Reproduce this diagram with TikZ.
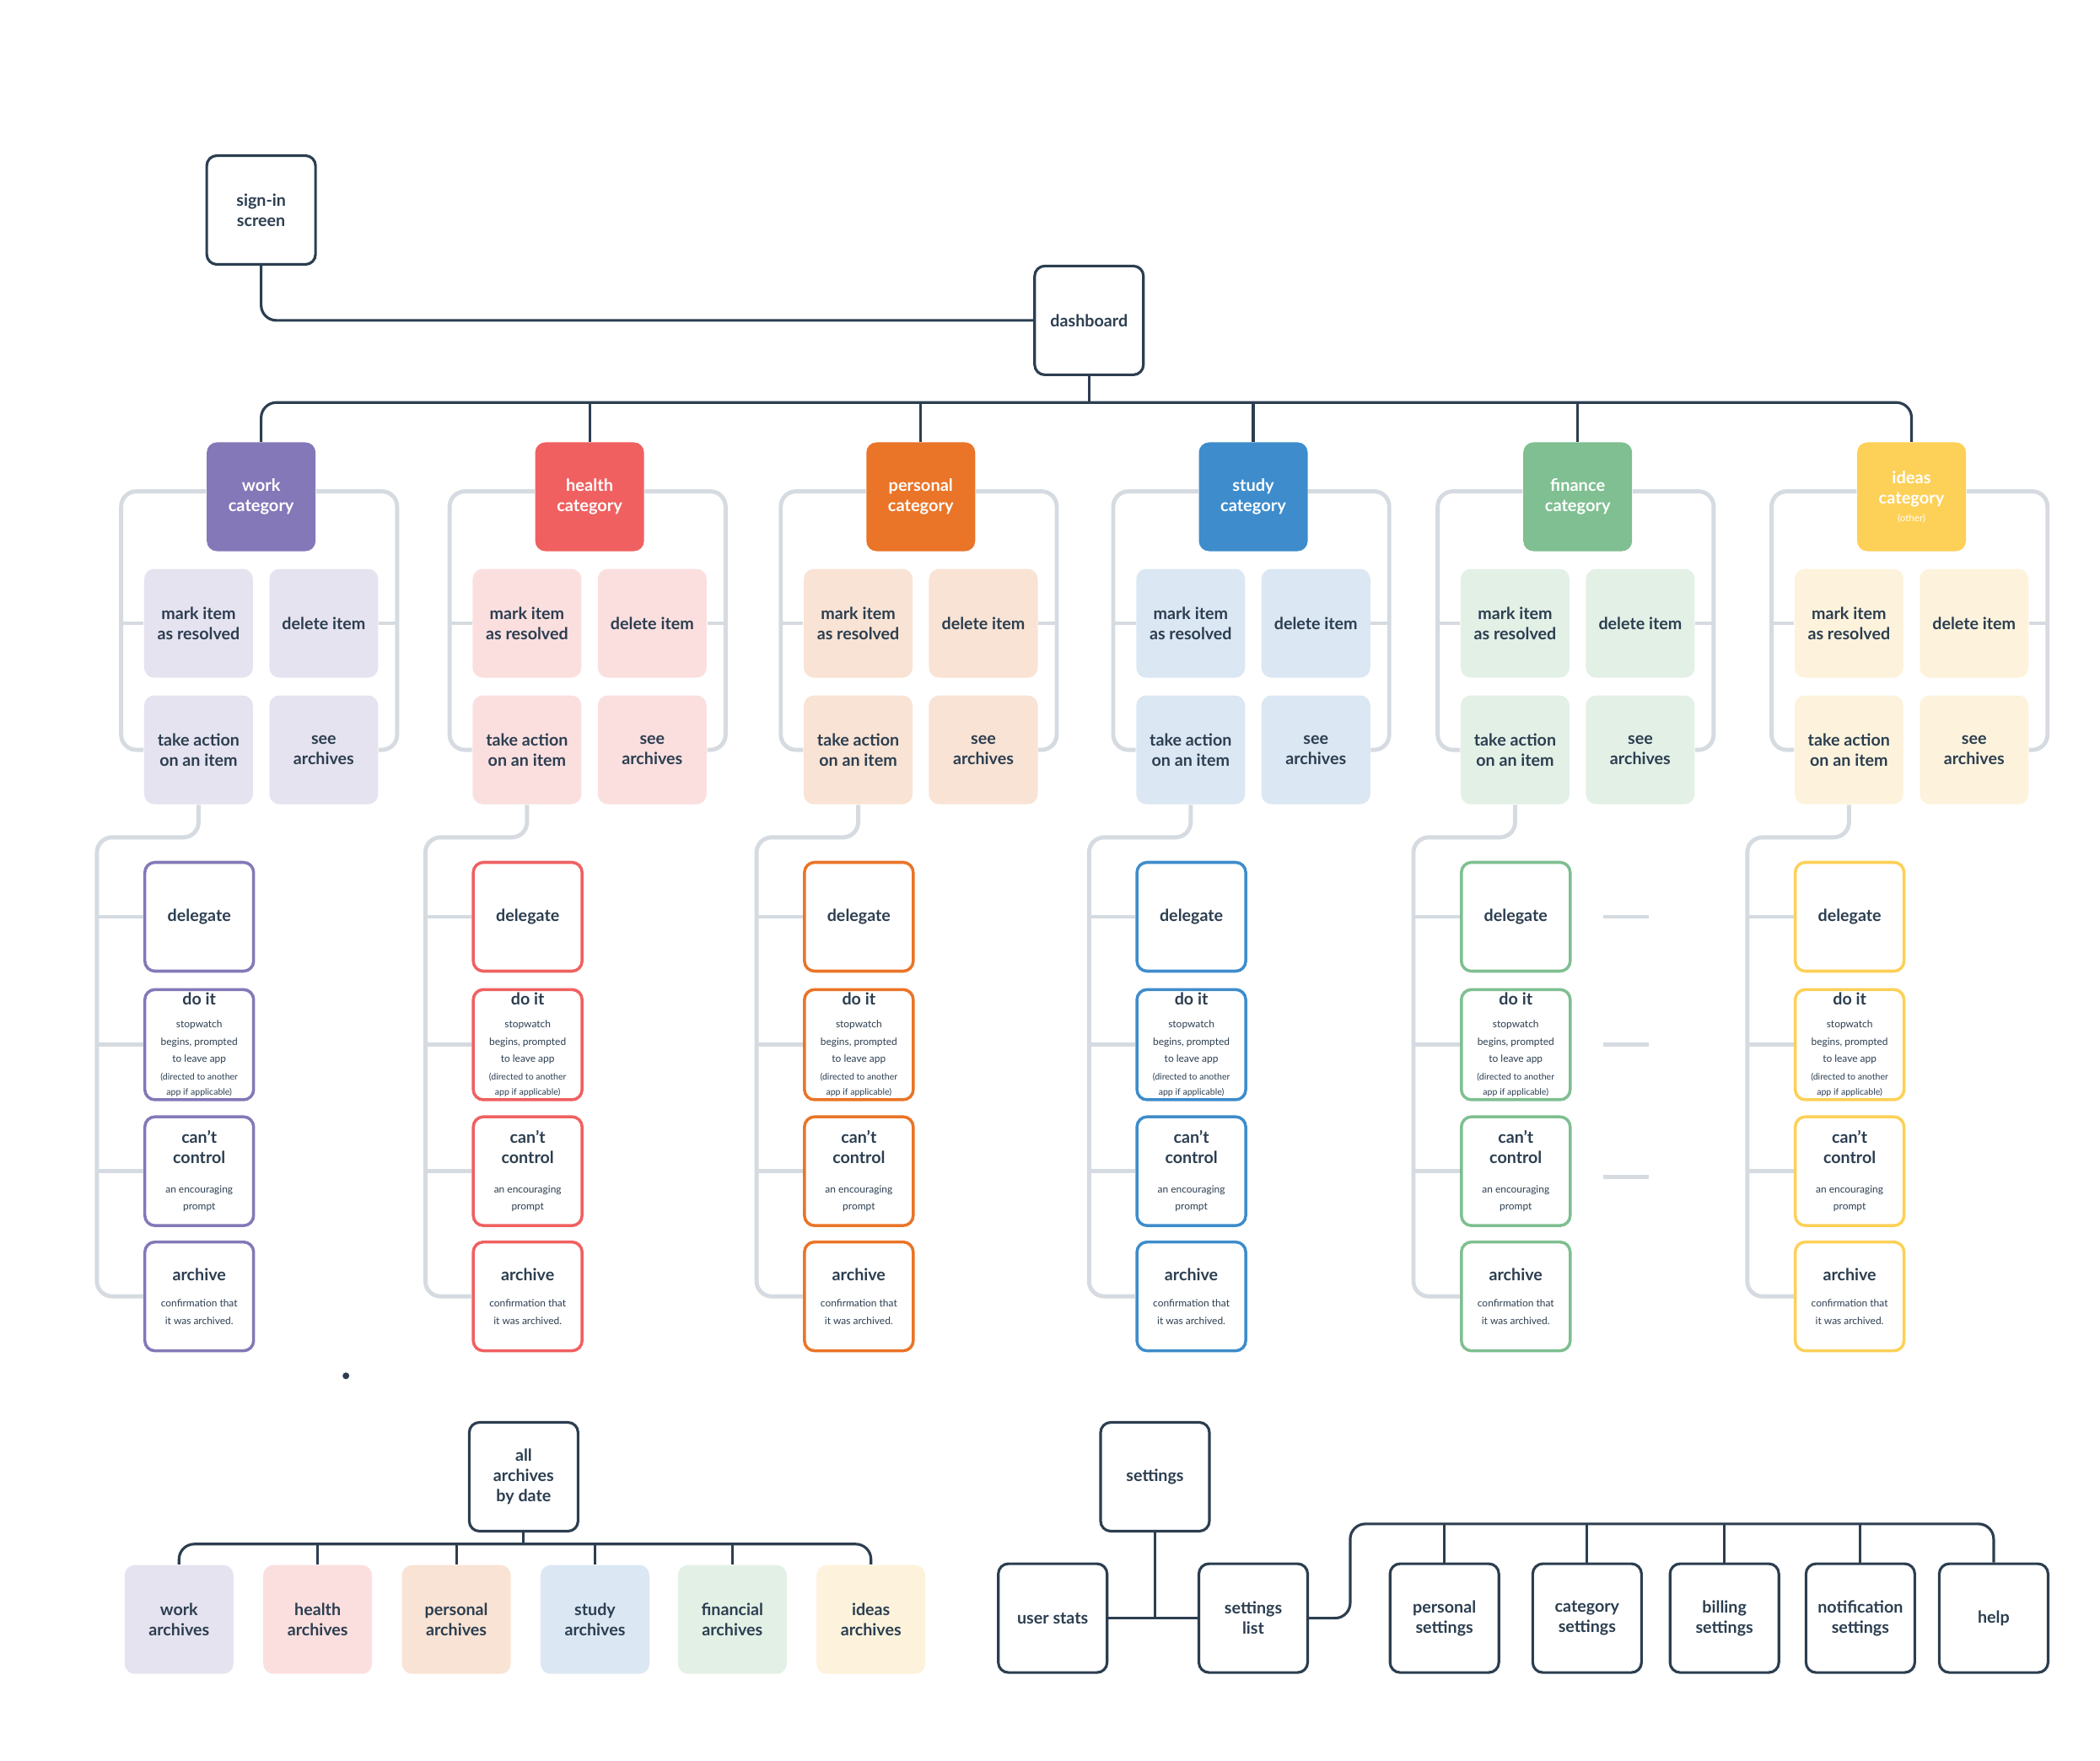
\documentclass[tikz,border=0pt]{standalone}
\usepackage{fontspec}
\setmainfont{Lato}
\definecolor{ink}{HTML}{2C3E50}
\definecolor{gry}{HTML}{D5DBE0}
\definecolor{cwork}{HTML}{8478B8}\definecolor{lwork}{HTML}{E6E3F0}
\definecolor{chealth}{HTML}{F06060}\definecolor{lhealth}{HTML}{FBDFDF}
\definecolor{cpers}{HTML}{EA7427}\definecolor{lpers}{HTML}{F9E3D4}
\definecolor{cstudy}{HTML}{3E8CCB}\definecolor{lstudy}{HTML}{DBE7F3}
\definecolor{cfin}{HTML}{7FBF91}\definecolor{lfin}{HTML}{E3F0E6}
\definecolor{cidea}{HTML}{FDD057}\definecolor{lidea}{HTML}{FDF3DC}
\tikzset{
 x=0.01596cm,y=-0.01596cm,
 base/.style={minimum width=1.29cm,minimum height=1.29cm,rounded corners=0.12cm,align=center,text=ink,font=\fontsize{5.6}{6.8}\selectfont\bfseries,inner sep=1pt},
 darkbox/.style={base,draw=ink,line width=0.9pt,fill=white},
 catbox/.style={base,fill=#1,text=white,font=\fontsize{5.7}{6.9}\selectfont\bfseries},
 lightbox/.style={base,fill=#1},
 actbox/.style={base,draw=#1,line width=1pt,fill=white},
 dk/.style={draw=ink,line width=0.9pt,rounded corners=0.18cm},
 gl/.style={draw=gry,line width=1.4pt,rounded corners=0.18cm},
}
\newcommand{\sm}{\fontsize{3.4}{4.1}\selectfont\mdseries}
\newcommand{\smm}{\fontsize{3.0}{3.6}\selectfont\mdseries}
\begin{document}
\begin{tikzpicture}
\useasboundingbox (0,0) rectangle (1560,1308);
\node[darkbox] (sign) at (194,156) {sign-in\\screen};
\node[darkbox] (dash) at (809,238) {dashboard};
\draw[dk] (sign.south) -- (194,238) -- (dash.west);
\foreach \i/\cx/\c/\l/\lab in {1/194/cwork/lwork/{work\\category},2/438/chealth/lhealth/{health\\category},3/684/cpers/lpers/{personal\\category},4/931/cstudy/lstudy/{study\\category},5/1172/cfin/lfin/{finance\\category},6/1420/cidea/lidea/{ideas\\category\\[-1pt]{\fontsize{3.3}{4}\selectfont\mdseries(other)}}}{
 \node[catbox=\c] (cat\i) at (\cx,369) {\lab};
 \node[lightbox=\l] (m\i) at (\cx-46.5,463) {mark item\\as resolved};
 \node[lightbox=\l] (d\i) at (\cx+46.5,463) {delete item};
 \node[lightbox=\l] (t\i) at (\cx-46.5,557) {take action\\on an item};
 \node[lightbox=\l] (s\i) at (\cx+46.5,557) {see\\archives};
 \node[actbox=\c] (dl\i) at (\cx-46,681) {delegate};
 \node[actbox=\c] (di\i) at (\cx-46,776) {do it\\[1pt]{\sm stopwatch}\\[-1pt]{\sm begins, prompted}\\[-1pt]{\sm to leave app}\\[-1pt]{\smm (directed to another}\\[-1.5pt]{\smm app if applicable)}};
 \node[actbox=\c] (cc\i) at (\cx-46,870) {can't\\control\\[3pt]{\sm an encouraging}\\[-1pt]{\sm prompt}};
 \node[actbox=\c] (ar\i) at (\cx-46,963) {archive\\[2pt]{\sm confirmation that}\\[-1pt]{\sm it was archived.}};
 \draw[gl] (cat\i.west|-0,365) -- (\cx-104,365) -- (\cx-104,557) -- (t\i.west);
 \draw[gl] (cat\i.east|-0,365) -- (\cx+101,365) -- (\cx+101,557) -- (s\i.east);
 \draw[gl] (\cx-104,463) -- (m\i.west);
 \draw[gl] (\cx+101,463) -- (d\i.east);
 \draw[gl] (t\i.south) -- (\cx-46.5,622) -- (\cx-122,622) -- (\cx-122,963) -- (ar\i.west);
 \draw[gl] (\cx-122,681) -- (dl\i.west);
 \draw[gl] (\cx-122,776) -- (di\i.west);
 \draw[gl] (\cx-122,870) -- (cc\i.west);
}
\draw[dk] (dash.south) -- (809,299);
\draw[dk] (cat1.north) -- (194,299) -- (1420,299) -- (cat6.north);
\foreach \i in {2,3,4,5} \draw[dk] (cat\i.north) -- (cat\i.north|-0,299);
% stray dashes near finance
\coordinate (e1) at (1191,681);\coordinate (e2) at (1191,776);\coordinate (e3) at (1191,874);
\foreach \k in {1,2,3} \draw[draw=gry,line width=1.4pt] (e\k) -- ++(34,0);
\fill[ink] (257,1022) circle (2.5);
% archives
\node[darkbox] (all) at (389,1097) {all\\archives\\by date};
\foreach \j/\ax/\l/\lab in {1/133/lwork/{work\\archives},2/236/lhealth/{health\\archives},3/339/lpers/{personal\\archives},4/442/lstudy/{study\\archives},5/544/lfin/{financial\\archives},6/647/lidea/{ideas\\archives}}{
 \node[lightbox=\l] (a\j) at (\ax,1203) {\lab};
}
\draw[dk] (all.south) -- (389,1147);
\draw[dk] (a1.north) -- (133,1147) -- (647,1147) -- (a6.north);
\foreach \j in {2,3,4,5} \draw[dk] (a\j.north) -- (a\j.north|-0,1147);
% settings
\node[darkbox] (set) at (858,1097) {settings};
\node[darkbox] (us) at (782,1202) {user stats};
\node[darkbox] (sl) at (931,1202) {settings\\list};
\draw[dk] (us.east) -- (sl.west);
\draw[dk] (set.south) -- (858,1202);
\foreach \j/\sx/\lab in {1/1073/{personal\\settings},2/1179/{category\\settings},3/1281/{billing\\settings},4/1382/{notification\\settings},5/1481/{help}}{
 \node[darkbox] (p\j) at (\sx,1202) {\lab};
}
\draw[dk] (sl.east) -- (1003,1202) -- (1003,1132) -- (1481,1132) -- (p5.north);
\foreach \j in {1,2,3,4} \draw[dk] (p\j.north) -- (p\j.north|-0,1132);
\end{tikzpicture}
\end{document}
